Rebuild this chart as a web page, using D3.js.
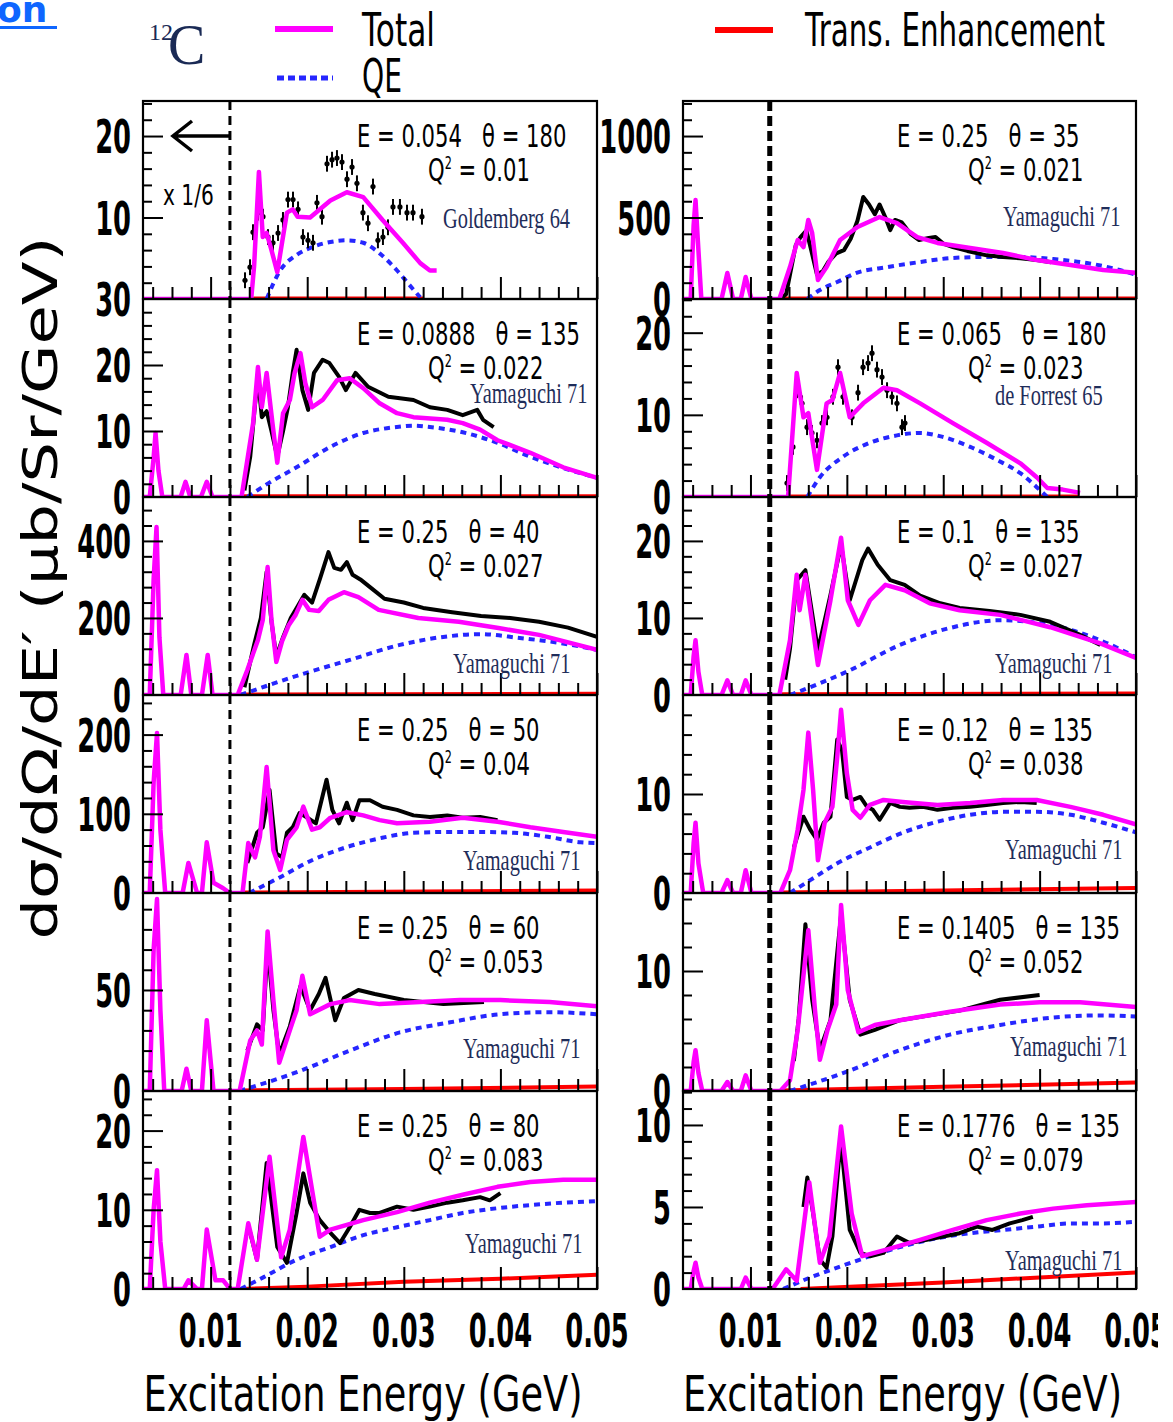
<!DOCTYPE html>
<html>
<head>
<meta charset="utf-8">
<script src="https://cdn.jsdelivr.net/npm/d3@7"></script>
<style>
body { margin: 0; background: #fff; }
svg { display: block; }
text { font-family: "DejaVu Sans", sans-serif; }
</style>
</head>
<body>
<svg id="chart" width="1173" height="1422"></svg>
<script>
// ---- data (x in GeV, y in panel units) ----
var xDomain = [0.003, 0.05];
var xMajor = [0.01, 0.02, 0.03, 0.04, 0.05];
var xTickLabels = ["0.01", "0.02", "0.03", "0.04", "0.05"];
var cutE = 0.012;

// left column
var totalL0 = [[0.003,0],[0.0142,0],[0.0145,4],[0.0150,15.6],[0.0154,7.6],[0.0158,8.1],[0.0163,6],[0.0169,3.3],[0.0179,10.6],[0.0185,11.0],[0.0190,10.1],[0.0203,10.0],[0.0224,12.1],[0.0241,13.1],[0.0258,12.5],[0.0278,9.7],[0.0299,6.9],[0.0317,4.4],[0.0327,3.5],[0.0334,3.5]];
var qeL0 = [[0.0158,0],[0.0172,3.5],[0.0189,5.4],[0.0206,6.4],[0.0224,7.0],[0.0241,7.2],[0.0258,6.9],[0.0275,5.6],[0.0293,3.5],[0.0306,1.7],[0.0317,0.2]];
var dataL0 = [[0.01356,2.3],[0.01408,3.9],[0.01439,8.2],[0.0149,10.6],[0.01542,10.1],[0.01594,7.6],[0.01646,6.9],[0.01698,8.1],[0.01749,9.7],[0.01801,12.2],[0.01853,12.2],[0.01905,11.0],[0.01956,7.6],[0.02008,7.2],[0.0206,6.9],[0.02101,11.8],[0.02153,10.1],[0.02205,16.6],[0.02257,17.1],[0.02308,17.3],[0.0236,16.8],[0.02412,14.7],[0.02464,16.2],[0.02515,14.2],[0.02577,10.6],[0.02629,9.3],[0.02681,13.8],[0.02732,7.2],[0.02784,7.6],[0.02836,8.8],[0.02888,11.3],[0.0296,11.3],[0.03033,10.6],[0.03095,10.6],[0.03188,10.1]];
var teL0 = [[0.0144,0.05],[0.032,0.05]];

var totalL1 = [[0.003,0],[0.0037,0],[0.0041,6],[0.0043,9.7],[0.0046,4],[0.0050,0],[0.0069,0],[0.0074,2.3],[0.0079,0],[0.0090,0],[0.0096,2.3],[0.0102,0],[0.0132,0],[0.0144,11.2],[0.0149,19.7],[0.0153,13.6],[0.0158,18.8],[0.0164,11.2],[0.0169,5.2],[0.0175,12.7],[0.0182,14.7],[0.0187,18.8],[0.0193,21.8],[0.0198,17.3],[0.0205,13.6],[0.0216,14.7],[0.0231,17.7],[0.0244,18.0],[0.0258,16.5],[0.0275,14.2],[0.0293,12.7],[0.0310,12.1],[0.0345,11.7],[0.0361,11.2],[0.0379,10.2],[0.0397,8.6],[0.0431,6.7],[0.0465,4.5],[0.0500,2.9]];
var qeL1 = [[0.0138,0],[0.0160,2.1],[0.0189,4.5],[0.0224,7.6],[0.0258,9.7],[0.0293,10.6],[0.0310,10.8],[0.0327,10.6],[0.0361,9.8],[0.0397,8.2],[0.0431,6.1],[0.0465,4.4],[0.0500,2.9]];
var dataL1 = [[0.0135,1],[0.0141,6.1],[0.0146,14],[0.0149,18],[0.0153,12.1],[0.0158,13],[0.0163,10],[0.0169,6.1],[0.0175,10],[0.0180,13.6],[0.0185,18.8],[0.0189,22.3],[0.0195,16.2],[0.0201,13.2],[0.0207,18.8],[0.0216,20.8],[0.0223,20.3],[0.0233,18.2],[0.0240,16.2],[0.0250,18.8],[0.0263,16.7],[0.0284,15.2],[0.0310,14.7],[0.0327,13.6],[0.0345,13.2],[0.0361,12.4],[0.0376,13.2],[0.0382,11.7],[0.0393,10.6]];
var teL1 = [[0.0132,0.1],[0.05,0.1]];

var totalL2 = [[0.003,0],[0.0037,0],[0.0041,300],[0.0044,436],[0.0047,150],[0.0051,0],[0.0069,0],[0.0075,104],[0.0080,0],[0.0091,0],[0.0097,104],[0.0102,0],[0.0128,0],[0.0138,65],[0.0149,143],[0.0154,195],[0.0159,332],[0.0163,195],[0.0168,86],[0.0174,140],[0.0181,182],[0.0188,208],[0.0195,247],[0.0202,221],[0.0212,218],[0.0222,247],[0.0238,267],[0.0253,254],[0.0274,221],[0.0315,200],[0.0357,190],[0.0398,174],[0.0440,156],[0.0500,117]];
var qeL2 = [[0.0131,0],[0.0192,52],[0.0244,91],[0.0296,130],[0.0348,153],[0.0379,158],[0.0420,148],[0.0462,135],[0.0500,117]];
var dataL2 = [[0.0135,20],[0.0145,130],[0.0152,200],[0.0158,320],[0.0163,190],[0.0168,100],[0.0175,150],[0.0183,200],[0.0190,230],[0.0197,260],[0.0205,240],[0.0213,300],[0.0222,371],[0.0228,330],[0.0235,325],[0.0241,345],[0.0247,312],[0.0255,300],[0.0265,280],[0.0280,250],[0.0300,240],[0.0320,226],[0.0350,215],[0.0380,205],[0.0410,200],[0.0440,190],[0.0470,175],[0.0500,151]];
var teL2 = [[0.0131,1],[0.05,3]];

var totalL3 = [[0.003,0],[0.0037,0],[0.0041,140],[0.00445,202],[0.0048,80],[0.0053,0],[0.0071,0],[0.0077,38],[0.0086,0],[0.0091,0],[0.0096,64],[0.0103,13],[0.0113,6],[0.0120,0],[0.0133,0],[0.0139,63],[0.0146,45],[0.0151,71],[0.0158,159],[0.0165,54],[0.0172,29],[0.0179,67],[0.0189,83],[0.0196,109],[0.0205,80],[0.0213,83],[0.0224,95],[0.0241,102],[0.0258,98],[0.0275,92],[0.0293,88],[0.0327,90],[0.0361,95],[0.0397,90],[0.0431,83],[0.0465,77],[0.0500,71]];
var qeL3 = [[0.0140,0],[0.0172,20],[0.0206,42],[0.0241,58],[0.0275,69],[0.0310,76],[0.0345,77],[0.0379,77],[0.0414,76],[0.0449,71],[0.0483,64],[0.0500,63]];
var dataL3 = [[0.0138,38],[0.0148,76],[0.0154,83],[0.0161,130],[0.0168,50],[0.0174,45],[0.0179,76],[0.0185,83],[0.0192,101],[0.0199,96],[0.0209,88],[0.0220,143],[0.0226,105],[0.0233,88],[0.0241,114],[0.0247,92],[0.0254,117],[0.0265,117],[0.0278,109],[0.0293,105],[0.0310,98],[0.0327,96],[0.0345,98],[0.0361,95],[0.0379,96],[0.0397,92]];
var teL3 = [[0.0133,0.5],[0.05,3]];

var totalL4 = [[0.003,0],[0.0037,0],[0.0041,70],[0.00445,95],[0.0048,40],[0.0052,0],[0.0070,0],[0.0075,11],[0.0080,0],[0.0091,0],[0.0096,35],[0.0103,0],[0.0130,0],[0.0141,25],[0.0148,30],[0.0153,23],[0.0159,79],[0.0165,45],[0.0171,14],[0.0182,30],[0.0189,40],[0.0195,57],[0.0203,38],[0.0224,43],[0.0244,45],[0.0275,43],[0.0317,44],[0.0358,45],[0.0400,45],[0.0451,44],[0.0500,42]];
var qeL4 = [[0.0130,0],[0.0193,10],[0.0244,20],[0.0296,29],[0.0348,34],[0.0400,38],[0.0451,39],[0.0500,38]];
var dataL4 = [[0.0138,20],[0.0148,33],[0.0154,30],[0.0159,72],[0.0165,40],[0.0171,18],[0.0182,32],[0.0193,52],[0.0203,40],[0.0212,48],[0.0219,56],[0.0229,35],[0.0238,46],[0.0253,50],[0.0270,48],[0.0300,45],[0.0341,43],[0.0383,44]];
var teL4 = [[0.0130,0.3],[0.03,1],[0.05,2.2]];

var totalL5 = [[0.003,0],[0.0037,0],[0.0041,10],[0.00445,15.0],[0.0048,6],[0.0053,0],[0.0072,0],[0.0077,1.1],[0.0086,0],[0.0091,0],[0.0096,7.5],[0.0105,1.1],[0.0113,1.1],[0.0120,0],[0.0128,0],[0.0139,8.3],[0.0148,3.7],[0.0161,16.7],[0.0173,4.0],[0.0182,7.5],[0.0196,19.2],[0.0213,6.6],[0.0224,7.5],[0.0258,8.7],[0.0293,9.7],[0.0327,10.9],[0.0361,11.9],[0.0397,12.9],[0.0431,13.5],[0.0465,13.8],[0.0500,13.8]];
var qeL5 = [[0.0131,0],[0.0155,1.5],[0.0189,3.7],[0.0224,5.3],[0.0258,6.8],[0.0293,7.8],[0.0327,8.7],[0.0361,9.6],[0.0397,10.2],[0.0431,10.6],[0.0465,10.9],[0.0500,11.1]];
var dataL5 = [[0.0141,7.1],[0.0148,3.7],[0.0158,15.9],[0.0169,5.3],[0.0179,3.3],[0.0189,9.6],[0.0196,14.6],[0.0203,10.9],[0.0213,8.7],[0.0224,7.1],[0.0234,5.8],[0.0244,7.8],[0.0254,10.0],[0.0265,9.6],[0.0275,9.6],[0.0293,10.4],[0.0310,10.0],[0.0327,10.4],[0.0345,10.9],[0.0361,11.2],[0.0379,11.6],[0.0389,11.2],[0.0400,12.1]];
var teL5 = [[0.0131,0],[0.020,0.3],[0.030,0.9],[0.040,1.3],[0.050,1.8]];

// right column
var totalR0 = [[0.003,0],[0.0038,0],[0.0041,450],[0.0043,607],[0.0045,400],[0.0049,0],[0.0070,0],[0.0076,160],[0.0082,0],[0.0090,0],[0.0095,135],[0.0101,0],[0.0130,0],[0.0141,196],[0.0149,362],[0.0155,319],[0.0160,485],[0.0164,405],[0.0170,117],[0.0179,196],[0.0193,362],[0.0211,442],[0.0234,503],[0.0252,466],[0.0273,380],[0.0294,344],[0.0328,313],[0.0362,282],[0.0397,239],[0.0432,209],[0.0466,178],[0.0501,160]];
var qeR0 = [[0.0159,0],[0.0172,55],[0.0190,104],[0.0210,160],[0.0242,196],[0.0276,227],[0.0310,252],[0.0345,258],[0.0380,258],[0.0414,245],[0.0449,221],[0.0483,178],[0.0501,147]];
var dataR0 = [[0.0131,0],[0.0137,30],[0.0141,150],[0.0147,330],[0.0152,380],[0.0158,420],[0.0163,300],[0.0169,150],[0.0175,170],[0.0181,230],[0.0189,280],[0.0197,300],[0.0204,370],[0.0211,480],[0.0217,626],[0.0223,580],[0.0229,520],[0.0234,580],[0.0240,500],[0.0245,423],[0.0250,485],[0.0257,470],[0.0266,400],[0.0275,362],[0.0285,375],[0.0292,380],[0.0300,340],[0.0310,319],[0.0325,295],[0.0345,268],[0.0362,258],[0.0380,250],[0.0397,239],[0.0412,225]];
var teR0 = [[0.0131,3],[0.05,3]];

var totalR1 = [[0.003,0],[0.0139,0],[0.0148,15.1],[0.0155,9.7],[0.0160,10.2],[0.0169,3.3],[0.0179,11.4],[0.0185,11.8],[0.0193,15.1],[0.0203,9.7],[0.0217,11.4],[0.0238,13.3],[0.0252,13.0],[0.0276,11.4],[0.0310,9.0],[0.0345,6.6],[0.0380,4.1],[0.0397,2.4],[0.0408,1.1],[0.0424,0.9],[0.0442,0.5]];
var qeR1 = [[0.0159,0],[0.0172,2.4],[0.0196,4.9],[0.0224,6.6],[0.0252,7.5],[0.0276,7.8],[0.0300,7.3],[0.0328,6.1],[0.0356,4.5],[0.0380,2.9],[0.0397,1.2],[0.0408,0]];
var dataR1 = [[0.01379,1.7],[0.01441,6.1],[0.01483,13.0],[0.01535,11.4],[0.01587,8.5],[0.01638,7.8],[0.0169,6.9],[0.01742,9.0],[0.01794,9.7],[0.01856,12.2],[0.01908,15.8],[0.0196,12.2],[0.02053,9.7],[0.02116,12.7],[0.02168,15.8],[0.0222,16.3],[0.02261,17.5],[0.02313,15.5],[0.02365,14.6],[0.02417,13.0],[0.02468,12.2],[0.0252,11.4],[0.02572,8.5],[0.02603,9.0]];
var teR1 = [[0.0139,0.05],[0.044,0.05]];

var totalR2 = [[0.003,0],[0.0038,0],[0.0041,5],[0.0043,7.1],[0.0046,3],[0.0050,0],[0.0070,0],[0.0076,1.9],[0.0082,0],[0.0090,0],[0.0095,1.9],[0.0101,0],[0.0130,0],[0.0141,7.1],[0.0148,15.6],[0.0151,11],[0.0157,15.6],[0.0170,3.9],[0.0183,12.3],[0.0194,20.4],[0.0201,12.3],[0.0212,9.1],[0.0224,12.3],[0.0240,14.3],[0.0260,13.6],[0.0286,11.9],[0.0317,11],[0.0359,10.4],[0.0411,8.8],[0.0463,6.7],[0.0500,4.8]];
var qeR2 = [[0.0141,0],[0.0203,3.2],[0.0255,6.5],[0.0307,8.7],[0.0359,9.7],[0.0411,9.1],[0.0463,7.1],[0.0500,4.9]];
var dataR2 = [[0.0136,2],[0.0141,6],[0.0148,14.9],[0.0157,16.2],[0.0170,5.8],[0.0183,13],[0.0194,19.5],[0.0203,12.3],[0.0216,17.5],[0.0222,19],[0.0232,16.9],[0.0245,14.9],[0.0260,14.3],[0.0276,12.9],[0.0297,11.9],[0.0317,11.3],[0.0348,10.9],[0.0380,10.4],[0.0411,9.5],[0.0442,7.8],[0.0463,6.5]];
var teR2 = [[0.0130,0.1],[0.05,0.2]];

var totalR3 = [[0.003,0],[0.0038,0],[0.0041,5],[0.0043,7.1],[0.0046,3],[0.0051,0],[0.0070,0],[0.0076,1.3],[0.0082,0],[0.0090,0],[0.0095,2.3],[0.0101,0],[0.0131,0],[0.0141,2.3],[0.0149,6.4],[0.0155,10.4],[0.0160,16.2],[0.0165,10.4],[0.0170,3.3],[0.0177,7.1],[0.0185,8.7],[0.0190,13.7],[0.0194,18.5],[0.0200,12.1],[0.0206,8.4],[0.0214,7.6],[0.0224,8.9],[0.0238,9.4],[0.0258,9.2],[0.0294,8.9],[0.0328,9.1],[0.0362,9.4],[0.0397,9.4],[0.0432,8.7],[0.0466,7.9],[0.0501,6.9]];
var qeR3 = [[0.0141,0],[0.0162,1.3],[0.0190,3.0],[0.0224,4.6],[0.0258,6.1],[0.0294,7.2],[0.0328,7.9],[0.0362,8.2],[0.0397,8.2],[0.0432,7.9],[0.0466,7.1],[0.0501,6.1]];
var dataR3 = [[0.0145,4.6],[0.0155,7.7],[0.0162,6.4],[0.0169,5.4],[0.0176,7.1],[0.0183,7.7],[0.0190,15.5],[0.0195,14.4],[0.0200,9.7],[0.0206,9.4],[0.0214,9.7],[0.0221,8.7],[0.0227,8.4],[0.0234,7.4],[0.0245,9.1],[0.0255,8.7],[0.0265,8.6],[0.0279,8.7],[0.0294,8.4],[0.0310,8.6],[0.0328,8.7],[0.0345,8.9],[0.0362,9.1],[0.0380,9.2],[0.0397,9.1]];
var teR3 = [[0.0131,0.05],[0.03,0.25],[0.05,0.5]];

var totalR4 = [[0.003,0],[0.0038,0],[0.0041,2.4],[0.0043,3.4],[0.0046,1.5],[0.0050,0],[0.0070,0],[0.0076,0.75],[0.0082,0],[0.0090,0],[0.0095,1.3],[0.0101,0],[0.0131,0],[0.0141,0.9],[0.0149,5.1],[0.0160,13.4],[0.0167,6.7],[0.0172,2.6],[0.0180,5.1],[0.0189,7.2],[0.0194,15.5],[0.0201,8.4],[0.0212,4.9],[0.0229,5.5],[0.0255,5.9],[0.0307,6.6],[0.0359,7.2],[0.0400,7.4],[0.0442,7.4],[0.0500,7.0]];
var qeR4 = [[0.0141,0],[0.0203,1.7],[0.0255,3.4],[0.0307,4.7],[0.0359,5.5],[0.0411,6.1],[0.0463,6.3],[0.0500,6.2]];
var dataR4 = [[0.0145,2.5],[0.0150,6],[0.0157,13.9],[0.0164,7.6],[0.0172,3.4],[0.0183,5.9],[0.0194,14.7],[0.0203,7.6],[0.0214,4.7],[0.0229,5.1],[0.0255,5.9],[0.0286,6.3],[0.0317,6.7],[0.0359,7.6],[0.0400,8.0]];
var teR4 = [[0.0131,0.05],[0.03,0.35],[0.05,0.7]];

var totalR5 = [[0.003,0],[0.0038,0],[0.0041,1.1],[0.0043,1.6],[0.0046,0.7],[0.0050,0],[0.0090,0],[0.0095,0.7],[0.0101,0],[0.0123,0],[0.0137,1.2],[0.0148,0.5],[0.0161,6.5],[0.0172,1.6],[0.0182,3.2],[0.0194,9.9],[0.0205,4.6],[0.0216,2.0],[0.0241,2.4],[0.0276,3.0],[0.0310,3.6],[0.0345,4.2],[0.0380,4.6],[0.0414,4.9],[0.0449,5.1],[0.0501,5.3]];
var qeR5 = [[0.0134,0],[0.0162,0.7],[0.0190,1.3],[0.0224,2.0],[0.0258,2.6],[0.0294,3.1],[0.0328,3.4],[0.0362,3.6],[0.0397,3.8],[0.0432,4.0],[0.0466,4.0],[0.0501,4.1]];
var dataR5 = [[0.0155,5.0],[0.0159,6.8],[0.0165,4.6],[0.0172,1.8],[0.0179,1.3],[0.0185,3.2],[0.0193,8.7],[0.0196,7.7],[0.0203,3.6],[0.0214,2.2],[0.0224,2.0],[0.0238,2.2],[0.0252,3.2],[0.0265,2.8],[0.0283,3.0],[0.0300,3.2],[0.0317,3.4],[0.0335,3.8],[0.0351,3.6],[0.0369,4.0],[0.0382,4.2],[0.0393,4.4]];
var teR5 = [[0.0152,0],[0.03,0.4],[0.04,0.7],[0.05,1.0]];

// axis ranges, ticks and labels per panel
var yMaxL = [24.3, 30, 514, 250, 98, 25];
var yMaxR = [1215, 24.1, 25.7, 20, 16.5, 12.07];
var yMajorL = [10, 10, 200, 100, 50, 10];
var yMinorL = [2, 2, 40, 20, 10, 2];
var yMajorR = [500, 10, 10, 10, 10, 5];
var yMinorR = [100, 2, 2, 2, 2, 1];
var yLabelsL = [[10, 20], [0, 10, 20, 30], [0, 200, 400], [0, 100, 200], [0, 50], [0, 10, 20]];
var yLabelsR = [[0, 500, 1000], [0, 10, 20], [0, 10, 20], [0, 10], [0, 10], [0, 5, 10]];

var eL = ["0.054", "0.0888", "0.25", "0.25", "0.25", "0.25"];
var thL = ["180", "135", "40", "50", "60", "80"];
var q2L = ["0.01", "0.022", "0.027", "0.04", "0.053", "0.083"];
var eR = ["0.25", "0.065", "0.1", "0.12", "0.1405", "0.1776"];
var thR = ["35", "180", "135", "135", "135", "135"];
var q2R = ["0.021", "0.023", "0.027", "0.038", "0.052", "0.079"];
var refL = ["Goldemberg 64", "Yamaguchi 71", "Yamaguchi 71", "Yamaguchi 71", "Yamaguchi 71", "Yamaguchi 71"];
var refR = ["Yamaguchi 71", "de Forrest 65", "Yamaguchi 71", "Yamaguchi 71", "Yamaguchi 71", "Yamaguchi 71"];

// where the reference label sits inside each panel (px offset from panel corner)
var refPosL = [[300, 127], [327, 104], [310, 176], [320, 175], [320, 165], [322, 162]];
var refPosR = [[320, 125], [312, 106], [312, 176], [322, 164], [327, 163], [322, 179]];

var totalsL = [totalL0, totalL1, totalL2, totalL3, totalL4, totalL5];
var qesL = [qeL0, qeL1, qeL2, qeL3, qeL4, qeL5];
var datasL = [dataL0, dataL1, dataL2, dataL3, dataL4, dataL5];
var tesL = [teL0, teL1, teL2, teL3, teL4, teL5];
var totalsR = [totalR0, totalR1, totalR2, totalR3, totalR4, totalR5];
var qesR = [qeR0, qeR1, qeR2, qeR3, qeR4, qeR5];
var datasR = [dataR0, dataR1, dataR2, dataR3, dataR4, dataR5];
var tesR = [teR0, teR1, teR2, teR3, teR4, teR5];

// ---- layout ----
var colX = [143, 683], colW = [454, 453];
var rowTop = 101, rowH = 198;
var magenta = "#ff00ff", qeBlue = "#2626ff", teRed = "#ff0000";

var svg = d3.select("#chart");
var defs = svg.append("defs");

var panels = [];
for (var r = 0; r < 6; r++) {
	panels.push({col: 0, row: r, total: totalsL[r], qe: qesL[r], data: datasL[r], te: tesL[r],
		ymax: yMaxL[r], major: yMajorL[r], minor: yMinorL[r], labels: yLabelsL[r],
		e: eL[r], th: thL[r], q2: q2L[r], ref: refL[r], refPos: refPosL[r], points: r == 0});
	panels.push({col: 1, row: r, total: totalsR[r], qe: qesR[r], data: datasR[r], te: tesR[r],
		ymax: yMaxR[r], major: yMajorR[r], minor: yMinorR[r], labels: yLabelsR[r],
		e: eR[r], th: thR[r], q2: q2R[r], ref: refR[r], refPos: refPosR[r], points: r == 1});
}

function narrowText(g, x, y, str, size, sx, anchor, weight) {
	return g.append("text")
		.attr("transform", `translate(${x},${y}) scale(${sx},1)`)
		.attr("text-anchor", anchor)
		.style("font-size", size + "px")
		.style("font-weight", weight || "normal")
		.text(str);
}

panels.forEach(function(p, i) {
	var x0 = colX[p.col], w = colW[p.col], y0 = rowTop + p.row * rowH;
	var x = d3.scaleLinear().domain(xDomain).range([x0, x0 + w]);
	var y = d3.scaleLinear().domain([0, p.ymax]).range([y0 + rowH, y0]);
	var g = svg.append("g");

	defs.append("clipPath").attr("id", "clip" + i)
		.append("rect").attr("x", x0).attr("y", y0 - 2).attr("width", w).attr("height", rowH + 3);
	var plot = g.append("g").attr("clip-path", `url(#clip${i})`);

	var line = d3.line().x(d => x(d[0])).y(d => y(d[1]));
	var smooth = d3.line().x(d => x(d[0])).y(d => y(d[1])).curve(d3.curveMonotoneX);

	plot.append("path").attr("d", line(p.te))
		.attr("fill", "none").attr("stroke", teRed).attr("stroke-width", 4);
	plot.append("path").attr("d", smooth(p.qe))
		.attr("fill", "none").attr("stroke", qeBlue).attr("stroke-width", 4)
		.attr("stroke-dasharray", "6,5");

	if (p.points) {
		var err = p.ymax * 0.04;
		plot.selectAll(".eb").data(p.data).enter().append("line")
			.attr("x1", d => x(d[0])).attr("x2", d => x(d[0]))
			.attr("y1", d => y(d[1] - err)).attr("y2", d => y(d[1] + err))
			.attr("stroke", "#000").attr("stroke-width", 2);
		plot.selectAll(".pt").data(p.data).enter().append("circle")
			.attr("cx", d => x(d[0])).attr("cy", d => y(d[1])).attr("r", 2.6)
			.attr("fill", "#000");
	} else {
		plot.append("path").attr("d", line(p.data))
			.attr("fill", "none").attr("stroke", "#000").attr("stroke-width", 4)
			.attr("stroke-linejoin", "round");
	}

	plot.append("path").attr("d", line(p.total))
		.attr("fill", "none").attr("stroke", magenta).attr("stroke-width", 4.5)
		.attr("stroke-linejoin", "round");

	// cut line
	g.append("line").attr("x1", x(cutE)).attr("x2", x(cutE))
		.attr("y1", y0).attr("y2", y0 + rowH)
		.attr("stroke", "#000").attr("stroke-width", p.col ? 5 : 3)
		.attr("stroke-dasharray", p.col ? "10,5" : "9,6");

	// axes: ticks point into the panel
	var minorX = d3.range(0.004, 0.0501, 0.002).filter(v => xMajor.every(m => Math.abs(m - v) > 1e-6));
	g.append("g").attr("transform", `translate(0,${y0 + rowH})`)
		.call(d3.axisBottom(x).tickValues(minorX).tickSize(-12).tickFormat("").tickSizeOuter(0));
	g.append("g").attr("transform", `translate(0,${y0 + rowH})`)
		.call(d3.axisBottom(x).tickValues(xMajor).tickSize(-22).tickFormat("").tickSizeOuter(0));
	var minorY = d3.range(p.minor, p.ymax, p.minor).filter(v => Math.abs(v / p.major - Math.round(v / p.major)) > 1e-6);
	var majorY = d3.range(p.major, p.ymax, p.major);
	g.append("g").attr("transform", `translate(${x0},0)`)
		.call(d3.axisLeft(y).tickValues(minorY).tickSize(-9).tickFormat("").tickSizeOuter(0));
	g.append("g").attr("transform", `translate(${x0},0)`)
		.call(d3.axisLeft(y).tickValues(majorY).tickSize(-20).tickFormat("").tickSizeOuter(0));
	g.selectAll(".domain").remove();
	g.selectAll(".tick line").attr("stroke", "#000").attr("stroke-width", 2);

	g.append("rect").attr("x", x0).attr("y", y0).attr("width", w).attr("height", rowH)
		.attr("fill", "none").attr("stroke", "#000").attr("stroke-width", 2.2);

	// y tick labels
	p.labels.forEach(function(v) {
		narrowText(svg, x0 - 12, y(v) + 17, String(v), 46, 0.56, "end", "bold");
	});

	// panel texts
	narrowText(g, x0 + 214, y0 + 46, `E = ${p.e}   θ = ${p.th}`, 32, 0.66, "start")
		.style("white-space", "pre");
	var q = narrowText(g, x0 + 285, y0 + 80, "", 32, 0.66, "start").style("white-space", "pre");
	q.append("tspan").text("Q");
	q.append("tspan").attr("dy", -12).style("font-size", "17px").text("2");
	q.append("tspan").attr("dy", 12).text(` = ${p.q2}`);

	narrowText(g, x0 + p.refPos[0], y0 + p.refPos[1], p.ref, 30, 0.68, "start")
		.style("font-family", "'Liberation Serif', serif").attr("fill", "#1f2d5a");

	// x tick labels under the bottom row
	if (p.row == 5) {
		var xl = svg.append("g").attr("clip-path", "url(#pageclip)");
		xMajor.forEach(function(v, k) {
			narrowText(xl, x(v), 1347, xTickLabels[k], 46, 0.56, "middle", "bold");
		});
		svg.append("text").attr("x", x0 + w / 2 - 7).attr("y", 1411)
			.attr("text-anchor", "middle").attr("textLength", 439).attr("lengthAdjust", "spacingAndGlyphs")
			.style("font-size", "50px").text("Excitation Energy (GeV)");
	}

	// scale note in first panel
	if (i == 0) {
		g.append("path").attr("d", "M175,136 L229,136 M192,121 L173,136 L192,151")
			.attr("fill", "none").attr("stroke", "#000").attr("stroke-width", 3.5);
		narrowText(g, 163, 205, "x 1/6", 28, 0.72, "start");
	}
});

defs.append("clipPath").attr("id", "pageclip")
	.append("rect").attr("x", 0).attr("y", 0).attr("width", 1158).attr("height", 1422);

// y-axis title
svg.append("text").attr("transform", "translate(57,588) rotate(-90)")
	.attr("text-anchor", "middle").attr("textLength", 703).attr("lengthAdjust", "spacingAndGlyphs")
	.style("font-size", "48px").text("dσ/dΩ/dE′ (μb/Sr/GeV)");

// legend
svg.append("line").attr("x1", 275).attr("x2", 333).attr("y1", 29).attr("y2", 29)
	.attr("stroke", magenta).attr("stroke-width", 6);
svg.append("line").attr("x1", 277).attr("x2", 333).attr("y1", 78).attr("y2", 78)
	.attr("stroke", qeBlue).attr("stroke-width", 5).attr("stroke-dasharray", "7,4");
svg.append("line").attr("x1", 715).attr("x2", 773).attr("y1", 30).attr("y2", 30)
	.attr("stroke", teRed).attr("stroke-width", 6);
svg.append("text").attr("x", 362).attr("y", 46).attr("textLength", 73).attr("lengthAdjust", "spacingAndGlyphs")
	.style("font-size", "46px").text("Total");
svg.append("text").attr("x", 362).attr("y", 92).attr("textLength", 40).attr("lengthAdjust", "spacingAndGlyphs")
	.style("font-size", "46px").text("QE");
svg.append("text").attr("x", 805).attr("y", 46).attr("textLength", 300).attr("lengthAdjust", "spacingAndGlyphs")
	.style("font-size", "46px").text("Trans. Enhancement");

// nucleus label
svg.append("text").attr("x", 149).attr("y", 40).style("font-family", "'Liberation Serif', serif")
	.style("font-size", "24px").attr("fill", "#1a2a55").text("12");
svg.append("text").attr("x", 168).attr("y", 64).style("font-family", "'Liberation Serif', serif")
	.style("font-size", "56px").attr("fill", "#1a2a55").text("C");

// cut-off link text at the top left
svg.append("text").attr("x", -3).attr("y", 22).style("font-size", "36px").style("font-weight", "bold")
	.attr("fill", "#0f66ff").text("on");
svg.append("rect").attr("x", 0).attr("y", 26).attr("width", 57).attr("height", 3).attr("fill", "#0f66ff");
</script>
</body>
</html>
